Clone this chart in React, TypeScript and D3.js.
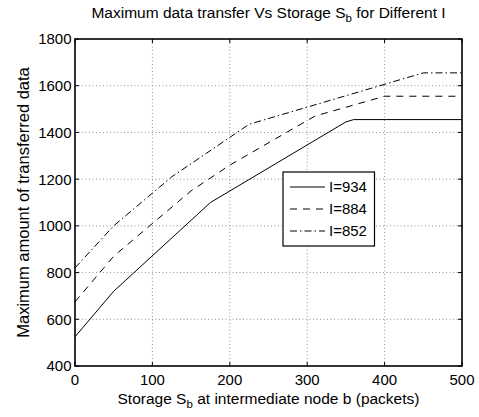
import React, { useEffect } from "react";
import * as d3 from "d3";

const xTicks = [0, 100, 200, 300, 400, 500];
const yTicks = [400, 600, 800, 1000, 1200, 1400, 1600, 1800];

const xI934 = [0, 50, 175, 350, 360, 500];
const yI934 = [525, 720, 1100, 1445, 1455, 1455];

const xI884 = [0, 50, 150, 200, 310, 400, 500];
const yI884 = [675, 870, 1150, 1260, 1470, 1555, 1555];

const xI852 = [0, 50, 125, 225, 450, 500];
const yI852 = [820, 1000, 1210, 1435, 1655, 1655];

const seriesNames = ["I=934", "I=884", "I=852"];

const W = 479;
const H = 417;
const FONT = "'Liberation Sans', Arial, Helvetica, sans-serif";

export default function App() {
  useEffect(() => {
    document.body.style.margin = "0";
  }, []);

  const x = d3.scaleLinear().domain([0, 500]).range([75, 462]);
  const y = d3.scaleLinear().domain([400, 1800]).range([366, 39]);

  const line = d3
    .line<[number, number]>()
    .x((d) => x(d[0]))
    .y((d) => y(d[1]));

  const series = [
    { name: seriesNames[0], xs: xI934, ys: yI934, dash: undefined as string | undefined },
    { name: seriesNames[1], xs: xI884, ys: yI884, dash: "7,6" },
    { name: seriesNames[2], xs: xI852, ys: yI852, dash: "7,3,1.5,3" },
  ];

  const [x0, x1] = x.range();
  const [y0, y1] = y.range();
  const tickLen = 4;

  const lgX = 283;
  const lgY = 172;
  const lgW = 91.5;
  const lgH = 74;
  const rowY = [187, 209, 231];

  return (
    <svg width={W} height={H} style={{ display: "block", background: "#fff" }} fontFamily={FONT}>
      <rect x={0} y={0} width={W} height={H} fill="#fff" />
      {/* grid */}
      {xTicks.slice(1, -1).map((t) => (
        <line key={"gx" + t} x1={x(t)} x2={x(t)} y1={y0} y2={y1} stroke="#777" strokeWidth={0.8} strokeDasharray="1,2.5" />
      ))}
      {yTicks.slice(1, -1).map((t) => (
        <line key={"gy" + t} x1={x0} x2={x1} y1={y(t)} y2={y(t)} stroke="#777" strokeWidth={0.8} strokeDasharray="1,2.5" />
      ))}
      {/* data */}
      {series.map((s) => (
        <path
          key={s.name}
          d={line(s.xs.map((v, i) => [v, s.ys[i]] as [number, number])) || ""}
          fill="none"
          stroke="#000"
          strokeWidth={1}
          strokeDasharray={s.dash}
        />
      ))}
      {/* ticks */}
      {xTicks.map((t) => (
        <g key={"tx" + t}>
          <line x1={x(t)} x2={x(t)} y1={y0} y2={y0 - tickLen} stroke="#000" strokeWidth={1} />
          <line x1={x(t)} x2={x(t)} y1={y1} y2={y1 + tickLen} stroke="#000" strokeWidth={1} />
          <text x={x(t)} y={385} fontSize={15} textAnchor="middle" fill="#000">
            {t}
          </text>
        </g>
      ))}
      {yTicks.map((t) => (
        <g key={"ty" + t}>
          <line x1={x0} x2={x0 + tickLen} y1={y(t)} y2={y(t)} stroke="#000" strokeWidth={1} />
          <line x1={x1} x2={x1 - tickLen} y1={y(t)} y2={y(t)} stroke="#000" strokeWidth={1} />
          <text x={71.5} y={y(t)} dy="0.36em" fontSize={15} textAnchor="end" fill="#000">
            {t}
          </text>
        </g>
      ))}
      {/* box */}
      <rect x={x0} y={y1} width={x1 - x0} height={y0 - y1} fill="none" stroke="#000" strokeWidth={1.6} />
      {/* title */}
      <text x={(x0 + x1) / 2} y={18} fontSize={15.5} textAnchor="middle" fill="#000">
        Maximum data transfer Vs Storage S
        <tspan fontSize={11.5} dy={4}>b</tspan>
        <tspan dy={-4}> for Different I</tspan>
      </text>
      {/* x label */}
      <text x={(x0 + x1) / 2} y={404} fontSize={15.5} textAnchor="middle" fill="#000">
        Storage S
        <tspan fontSize={11.5} dy={4}>b</tspan>
        <tspan dy={-4}> at intermediate node b (packets)</tspan>
      </text>
      {/* y label */}
      <text
        transform={`translate(29,${(y0 + y1) / 2}) rotate(-90)`}
        fontSize={16.5}
        textAnchor="middle"
        fill="#000"
      >
        Maximum amount of transferred data
      </text>
      {/* legend */}
      <rect x={lgX} y={lgY} width={lgW} height={lgH} fill="#fff" stroke="#000" strokeWidth={1.2} />
      {series.map((s, i) => (
        <g key={"lg" + s.name}>
          <line x1={290} x2={325} y1={rowY[i]} y2={rowY[i]} stroke="#000" strokeWidth={1} strokeDasharray={s.dash} />
          <text x={329} y={rowY[i]} dy="0.36em" fontSize={15} fill="#000">
            {s.name}
          </text>
        </g>
      ))}
    </svg>
  );
}
